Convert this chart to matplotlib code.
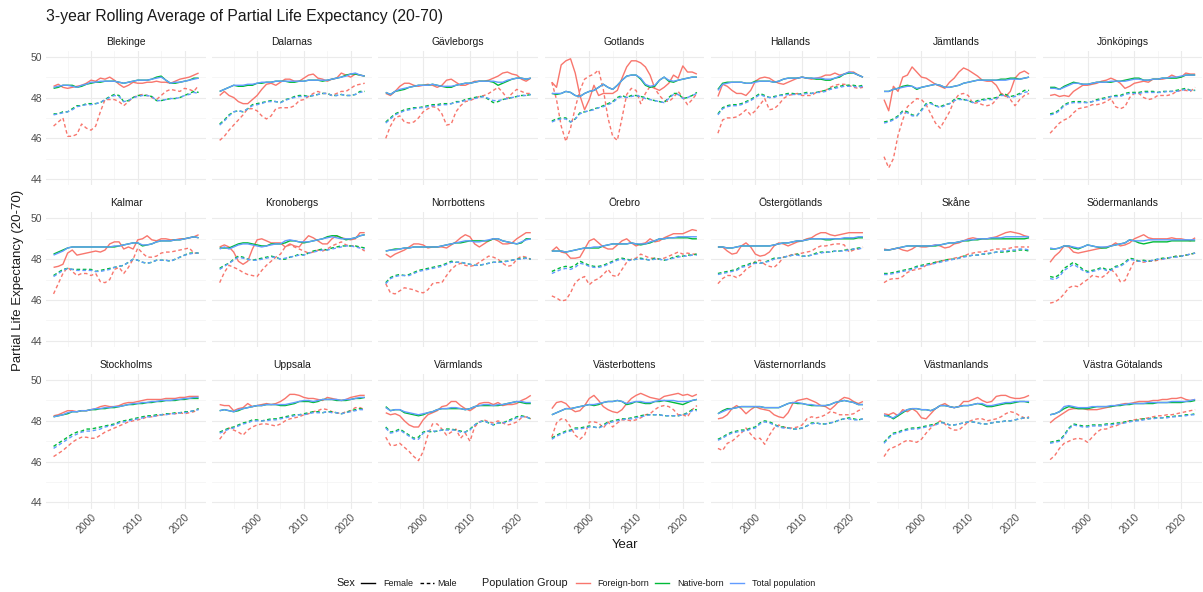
import matplotlib
matplotlib.use("Agg")
import matplotlib.pyplot as plt
from matplotlib.lines import Line2D

plt.rcParams['font.family'] = ['Liberation Sans', 'DejaVu Sans']

years = list(range(1992, 2024))

groups = ["Foreign-born", "Native-born", "Total population"]
group_keys = {"Foreign-born": "fb", "Native-born": "nb", "Total population": "tp"}
group_colors = {"Foreign-born": "#F8766D", "Native-born": "#00BA38", "Total population": "#619CFF"}
sexes = ["Female", "Male"]
sex_keys = {"Female": "f", "Male": "m"}

y_ticks = [44, 46, 48, 50]
x_ticks = [2000, 2010, 2020]

blekinge = dict(
    fb_f=[48.55,48.65,48.5,48.45,48.5,48.55,48.6,48.7, 48.85,48.8,48.95,48.9,49.0,48.85,48.65,48.5, 48.6,48.75,48.7,48.7,48.75,48.75,48.8,48.75, 48.75,48.7,48.8,48.9,48.95,49.0,49.1,49.2],
    nb_f=[48.45,48.5,48.6,48.6,48.6,48.5,48.55,48.65, 48.7,48.75,48.75,48.8,48.8,48.8,48.75,48.7, 48.75,48.8,48.85,48.85,48.85,48.9,49.0,49.05, 48.85,48.7,48.7,48.75,48.8,48.85,48.95,48.95],
    tp_f=[48.5,48.55,48.6,48.6,48.55,48.5,48.6,48.65, 48.75,48.75,48.8,48.8,48.8,48.8,48.75,48.7, 48.75,48.8,48.85,48.85,48.85,48.9,48.95,49.0, 48.85,48.7,48.75,48.75,48.8,48.85,48.9,48.95],
    fb_m=[46.6,46.8,47.0,46.1,46.1,46.2,46.7,46.5, 46.4,46.6,47.3,47.9,47.9,47.9,47.8,47.6, 47.8,48.0,48.1,48.15,48.1,48.0,47.9,48.1, 48.3,48.4,48.35,48.3,48.45,48.4,48.3,48.6],
    nb_m=[47.2,47.2,47.3,47.3,47.45,47.6,47.6,47.7, 47.7,47.7,47.75,47.9,48.05,48.15,48.1,47.8, 47.85,48.0,48.1,48.1,48.1,48.05,47.85,47.85, 47.9,47.95,47.95,48.0,48.1,48.2,48.3,48.25],
    tp_m=[47.15,47.2,47.25,47.3,47.4,47.55,47.6,47.65, 47.65,47.7,47.75,47.9,48.0,48.1,48.05,47.8, 47.85,48.0,48.05,48.1,48.1,48.05,47.85,47.85, 47.9,47.95,47.95,48.0,48.1,48.15,48.25,48.2],
)

dalarnas = dict(
    fb_f=[48.1,48.3,48.1,48.0,47.8,47.7,47.7,47.9, 48.1,48.4,48.65,48.7,48.6,48.75,48.9,48.9, 48.8,48.8,48.95,49.1,49.15,48.95,48.9,48.8, 48.9,48.95,49.2,49.1,49.0,49.15,49.1,49.05],
    nb_f=[48.3,48.4,48.5,48.6,48.55,48.55,48.6,48.6, 48.7,48.7,48.75,48.75,48.8,48.8,48.8,48.75, 48.75,48.8,48.8,48.85,48.85,48.85,48.8,48.85, 48.9,48.95,49.0,49.1,49.15,49.15,49.1,49.05],
    tp_f=[48.3,48.4,48.5,48.6,48.6,48.6,48.65,48.65, 48.7,48.75,48.75,48.75,48.8,48.8,48.8,48.8, 48.8,48.8,48.8,48.85,48.85,48.85,48.85,48.85, 48.9,48.95,49.0,49.05,49.15,49.2,49.1,49.05],
    fb_m=[45.9,46.1,46.4,46.65,46.9,47.15,47.45,47.45, 47.35,47.1,46.95,47.1,47.45,47.5,47.5,47.5, 47.6,47.85,47.9,48.05,48.2,48.3,48.2,48.2, 48.1,48.2,48.3,48.3,48.45,48.6,48.65,48.7],
    nb_m=[46.7,46.9,47.15,47.3,47.35,47.3,47.45,47.65, 47.7,47.75,47.8,47.85,47.8,47.75,47.9,47.95, 48.05,48.1,48.1,48.05,48.1,48.15,48.2,48.2, 48.1,48.1,48.15,48.1,48.1,48.15,48.3,48.3],
    tp_m=[46.65,46.85,47.1,47.3,47.35,47.3,47.45,47.6, 47.65,47.7,47.8,47.8,47.8,47.75,47.85,47.95, 48.0,48.05,48.05,48.05,48.1,48.15,48.2,48.2, 48.1,48.1,48.15,48.1,48.1,48.15,48.25,48.3],
)

gavleborgs = dict(
    fb_f=[48.2,48.1,48.3,48.55,48.7,48.7,48.6,48.55, 48.6,48.65,48.6,48.5,48.6,48.85,48.9,48.75, 48.6,48.6,48.7,48.8,48.8,48.8,48.85,48.95, 49.05,49.2,49.25,49.15,49.1,48.9,48.8,48.95],
    nb_f=[48.25,48.15,48.3,48.35,48.4,48.5,48.55,48.6, 48.6,48.6,48.65,48.6,48.55,48.5,48.5,48.6, 48.65,48.7,48.7,48.75,48.8,48.8,48.8,48.75, 48.6,48.7,48.8,48.9,48.95,48.95,48.9,48.95],
    tp_f=[48.25,48.15,48.3,48.4,48.45,48.5,48.55,48.6, 48.6,48.6,48.65,48.6,48.55,48.55,48.55,48.6, 48.65,48.7,48.7,48.75,48.8,48.8,48.8,48.8, 48.75,48.75,48.85,48.9,48.95,48.95,48.9,48.95],
    fb_m=[46.0,46.6,47.0,47.1,46.8,46.75,46.8,47.0, 47.3,47.45,47.55,47.5,47.2,46.65,46.7,47.3, 47.6,47.8,47.85,47.95,48.05,48.1,48.2,48.35, 48.5,48.25,47.95,48.2,48.4,48.3,48.2,48.2],
    nb_m=[46.8,47.0,47.2,47.3,47.4,47.45,47.5,47.5, 47.55,47.6,47.65,47.65,47.7,47.7,47.7,47.8, 47.8,47.9,47.95,48.0,48.05,48.05,47.9,47.75, 47.8,47.9,47.95,48.0,48.05,48.1,48.1,48.15],
    tp_m=[46.75,46.95,47.15,47.25,47.35,47.4,47.45,47.5, 47.5,47.55,47.6,47.6,47.65,47.65,47.7,47.75, 47.8,47.85,47.9,47.95,48.0,48.05,47.95,47.85, 47.85,47.9,47.95,48.0,48.05,48.1,48.1,48.15],
)

gotlands = dict(
    fb_f=[48.75,48.5,49.6,49.8,49.9,49.2,48.1,47.4, 47.9,48.6,48.1,48.2,48.2,48.2,48.35,48.95, 49.5,49.8,49.8,49.7,49.5,49.1,48.45,48.35, 48.5,48.7,49.1,48.95,49.55,49.25,49.25,49.15],
    nb_f=[48.2,48.15,48.2,48.3,48.25,48.1,48.05,48.2, 48.3,48.35,48.5,48.65,48.5,48.4,48.6,48.85, 49.05,49.1,49.1,48.9,48.6,48.5,48.55,48.85, 49.0,48.8,48.75,48.85,48.9,48.95,49.0,49.0],
    tp_f=[48.2,48.2,48.2,48.3,48.25,48.1,48.05,48.2, 48.3,48.35,48.5,48.65,48.5,48.4,48.6,48.85, 49.05,49.1,49.1,48.95,48.65,48.55,48.6,48.85, 49.0,48.85,48.8,48.85,48.9,48.95,49.0,49.0],
    fb_m=[48.75,47.9,46.6,45.85,46.5,47.5,48.35,48.9, 49.05,49.15,49.35,48.4,47.0,46.1,45.9,47.0, 48.15,48.45,48.35,47.7,48.2,48.55,48.45,48.1, 47.85,47.8,48.0,48.3,48.0,47.65,47.9,48.2],
    nb_m=[46.85,46.95,47.0,47.0,46.8,46.95,47.25,47.3, 47.35,47.45,47.5,47.6,47.7,47.8,48.0,48.1, 48.0,48.1,48.1,48.05,48.0,47.9,47.85,47.8, 47.75,48.0,48.2,48.2,47.95,48.0,48.1,48.25],
    tp_m=[46.8,46.9,46.95,46.95,46.8,46.95,47.2,47.3, 47.35,47.4,47.5,47.55,47.65,47.75,47.95,48.05, 48.0,48.05,48.1,48.05,47.95,47.9,47.85,47.8, 47.75,47.95,48.15,48.15,47.95,48.0,48.1,48.2],
)

hallands = dict(
    fb_f=[48.05,48.65,48.55,48.35,48.2,48.2,48.1,48.35, 48.8,48.95,49.0,48.95,48.8,48.7,48.65,48.75, 48.85,48.95,49.0,48.95,48.9,48.95,49.0,49.1, 49.1,49.2,49.1,49.15,49.25,49.25,49.1,49.0],
    nb_f=[48.4,48.7,48.75,48.75,48.75,48.75,48.7,48.7, 48.8,48.8,48.8,48.8,48.75,48.8,48.9,48.95, 48.95,48.95,49.0,48.95,48.95,48.9,48.9,48.85, 48.85,48.95,49.0,49.15,49.2,49.2,49.1,49.0],
    tp_f=[48.35,48.65,48.7,48.75,48.75,48.75,48.7,48.7, 48.75,48.8,48.8,48.8,48.75,48.8,48.9,48.95, 48.95,48.95,49.0,48.95,48.95,48.95,48.95,48.9, 48.9,48.95,49.05,49.15,49.25,49.2,49.1,49.0],
    fb_m=[46.25,46.9,47.0,47.0,47.05,47.2,47.4,47.15, 47.35,47.65,47.95,47.4,47.45,47.65,47.95,48.1, 48.15,48.2,48.1,48.1,48.1,48.25,48.3,48.35, 48.5,48.6,48.65,48.65,48.6,48.5,48.45,48.5],
    nb_m=[47.2,47.5,47.6,47.65,47.65,47.7,47.8,47.9, 48.05,48.2,48.1,48.0,48.05,48.1,48.15,48.2, 48.2,48.15,48.2,48.25,48.2,48.25,48.3,48.35, 48.45,48.5,48.55,48.6,48.6,48.6,48.55,48.6],
    tp_m=[47.15,47.45,47.55,47.6,47.6,47.65,47.75,47.85, 48.0,48.15,48.05,48.0,48.0,48.1,48.1,48.15, 48.15,48.15,48.15,48.2,48.2,48.25,48.25,48.3, 48.4,48.45,48.5,48.55,48.55,48.55,48.5,48.55],
)

jamtlands = dict(
    fb_f=[47.9,47.35,48.55,48.3,49.0,49.1,49.5,49.25, 49.0,48.95,48.8,48.65,48.55,48.45,48.75,48.95, 49.25,49.45,49.35,49.2,49.05,48.85,48.8,48.8, 48.6,48.2,48.05,48.3,48.95,49.2,49.3,49.15],
    nb_f=[48.3,48.3,48.4,48.45,48.55,48.6,48.55,48.4, 48.5,48.55,48.6,48.65,48.6,48.5,48.5,48.55, 48.6,48.7,48.75,48.8,48.85,48.85,48.85,48.85, 48.85,48.9,48.9,48.95,48.95,48.9,48.95,49.0],
    tp_f=[48.3,48.3,48.4,48.45,48.5,48.55,48.55,48.45, 48.5,48.55,48.6,48.65,48.6,48.5,48.5,48.55, 48.6,48.7,48.75,48.8,48.85,48.85,48.85,48.85, 48.85,48.85,48.85,48.9,48.9,48.9,48.95,49.0],
    fb_m=[45.1,44.55,45.0,46.15,46.9,47.55,47.75,47.95, 47.9,47.65,47.2,46.75,46.5,46.9,47.3,47.85, 48.15,48.2,48.1,47.7,47.75,47.65,47.6,47.65, 47.9,48.2,48.1,47.9,47.6,47.9,48.1,48.2],
    nb_m=[46.8,46.85,46.95,47.1,47.35,47.3,47.15,47.1, 47.4,47.7,47.75,47.6,47.55,47.65,47.7,47.9, 47.95,47.9,47.85,47.75,47.85,47.9,47.95,47.95, 48.0,48.15,48.15,48.05,48.1,48.2,48.35,48.35],
    tp_m=[46.75,46.8,46.9,47.05,47.3,47.25,47.1,47.1, 47.35,47.65,47.7,47.6,47.5,47.6,47.7,47.85, 47.9,47.9,47.85,47.75,47.8,47.85,47.9,47.9, 47.95,48.1,48.1,48.0,48.05,48.15,48.25,48.3],
)

jonkopings = dict(
    fb_f=[48.1,48.15,48.05,48.1,48.05,48.3,48.45,48.6, 48.6,48.65,48.7,48.8,48.85,48.95,48.85,48.7, 48.45,48.55,48.7,48.75,48.8,48.75,48.9,48.9, 48.9,48.95,49.1,49.0,49.0,49.2,49.15,49.15],
    nb_f=[48.5,48.5,48.4,48.55,48.65,48.75,48.7,48.65, 48.65,48.7,48.75,48.75,48.75,48.75,48.8,48.8, 48.85,48.9,48.95,48.95,48.85,48.85,48.9,48.9, 48.95,48.95,48.95,48.95,49.0,49.1,49.1,49.1],
    tp_f=[48.45,48.45,48.4,48.5,48.6,48.7,48.7,48.65, 48.65,48.7,48.75,48.75,48.75,48.8,48.8,48.8, 48.8,48.85,48.9,48.9,48.85,48.85,48.9,48.9, 48.95,48.95,49.0,49.0,49.05,49.1,49.1,49.1],
    fb_m=[46.25,46.5,46.75,46.9,47.0,47.25,47.45,47.5, 47.55,47.65,47.65,47.7,47.8,47.95,47.55,47.45, 47.55,48.0,48.2,48.2,48.0,47.9,47.95,48.1, 48.1,48.1,48.15,48.3,48.35,48.35,48.3,48.5],
    nb_m=[47.2,47.25,47.4,47.65,47.75,47.8,47.8,47.8, 47.75,47.8,47.9,47.95,48.0,48.05,48.1,48.1, 48.2,48.25,48.25,48.25,48.3,48.3,48.3,48.25, 48.3,48.3,48.3,48.35,48.4,48.45,48.35,48.35],
    tp_m=[47.15,47.2,47.35,47.6,47.7,47.75,47.75,47.75, 47.75,47.8,47.85,47.9,47.95,48.05,48.05,48.05, 48.15,48.2,48.2,48.2,48.25,48.25,48.25,48.25, 48.25,48.3,48.3,48.3,48.35,48.4,48.35,48.35],
)

kalmar = dict(
    fb_f=[47.6,47.65,47.75,48.3,48.45,48.2,48.25,48.3, 48.35,48.4,48.35,48.45,48.75,48.85,48.85,48.5, 48.6,48.5,48.95,49.0,49.15,48.95,48.9,49.0, 49.0,48.95,48.95,49.0,49.0,49.05,49.1,49.2],
    nb_f=[48.25,48.35,48.45,48.55,48.6,48.6,48.6,48.6, 48.6,48.6,48.6,48.6,48.6,48.6,48.65,48.7, 48.75,48.8,48.8,48.65,48.7,48.75,48.85,48.9, 48.9,48.9,48.95,48.95,49.0,49.05,49.1,49.05],
    tp_f=[48.2,48.3,48.4,48.55,48.6,48.6,48.6,48.6, 48.6,48.6,48.6,48.6,48.6,48.65,48.65,48.7, 48.75,48.8,48.8,48.7,48.7,48.75,48.85,48.9, 48.9,48.9,48.95,48.95,49.0,49.05,49.1,49.05],
    fb_m=[46.3,46.8,47.3,47.6,47.4,47.2,47.3,47.3, 47.2,47.3,46.9,46.85,47.0,47.5,47.6,47.3, 47.6,48.0,48.55,48.3,48.1,48.1,48.15,48.3, 48.35,48.35,48.4,48.45,48.5,48.55,48.3,48.3],
    nb_m=[47.2,47.35,47.5,47.55,47.5,47.5,47.5,47.5, 47.5,47.4,47.45,47.5,47.55,47.6,47.65,47.7, 47.85,48.0,47.95,47.85,47.8,47.85,47.95,47.95, 47.95,47.9,48.0,48.1,48.2,48.3,48.3,48.3],
    tp_m=[47.15,47.3,47.45,47.55,47.5,47.45,47.45,47.45, 47.45,47.4,47.4,47.45,47.5,47.6,47.65,47.7, 47.85,48.0,47.95,47.85,47.8,47.85,47.95,47.95, 47.95,47.9,48.0,48.1,48.2,48.25,48.3,48.3],
)

kronobergs = dict(
    fb_f=[48.6,48.7,48.6,48.35,47.9,47.75,47.9,48.5, 48.95,49.0,48.9,48.8,48.8,48.8,48.6,48.75, 48.65,48.6,48.9,49.15,49.05,48.9,48.75,48.75, 49.0,49.15,49.05,49.0,48.95,49.0,49.3,49.3],
    nb_f=[48.55,48.55,48.55,48.65,48.75,48.8,48.8,48.75, 48.7,48.65,48.65,48.75,48.75,48.75,48.8,48.9, 48.9,48.85,48.8,48.85,48.9,48.95,49.0,49.1, 49.15,49.15,49.05,48.95,49.0,49.05,49.15,49.2],
    tp_f=[48.5,48.6,48.5,48.6,48.7,48.75,48.75,48.7, 48.65,48.6,48.65,48.7,48.75,48.75,48.9,48.95, 48.9,48.85,48.85,48.85,48.9,48.95,49.0,49.05, 49.1,49.05,49.0,49.0,49.0,49.05,49.15,49.2],
    fb_m=[46.85,47.35,47.7,47.6,47.5,47.35,47.25,47.2, 47.15,47.45,47.7,47.9,48.1,48.25,48.6,48.7, 48.6,48.5,48.4,48.3,48.35,48.45,48.4,48.5, 48.65,48.75,48.85,48.7,48.65,48.65,48.55,48.4],
    nb_m=[47.55,47.7,47.8,48.0,48.15,48.1,48.0,47.95, 48.0,48.05,48.1,48.15,48.1,48.0,48.0,48.1, 48.15,48.25,48.2,48.3,48.4,48.45,48.5,48.45, 48.55,48.6,48.65,48.65,48.65,48.65,48.6,48.55],
    tp_m=[47.5,47.65,47.8,47.95,48.1,48.05,48.0,47.95, 47.95,48.0,48.05,48.1,48.1,48.0,48.05,48.1, 48.15,48.2,48.2,48.3,48.35,48.4,48.45,48.45, 48.5,48.55,48.6,48.65,48.65,48.6,48.55,48.5],
)

norrbottens = dict(
    fb_f=[48.25,48.1,48.25,48.35,48.45,48.6,48.75,48.75, 48.7,48.55,48.6,48.6,48.6,48.55,48.7,48.85, 49.05,49.2,49.1,48.75,48.6,48.75,48.9,49.0, 48.9,48.75,48.75,48.8,49.0,49.15,49.3,49.3],
    nb_f=[48.4,48.45,48.5,48.5,48.55,48.55,48.6,48.6, 48.6,48.6,48.6,48.6,48.65,48.7,48.75,48.8, 48.8,48.85,48.9,48.9,48.9,48.9,48.9,49.0, 49.0,48.9,48.85,48.8,48.75,48.8,49.0,49.0],
    tp_f=[48.4,48.45,48.45,48.5,48.55,48.55,48.6,48.6, 48.6,48.6,48.6,48.6,48.65,48.7,48.75,48.8, 48.85,48.9,48.9,48.85,48.85,48.9,48.95,49.0, 49.0,48.9,48.85,48.8,48.75,48.85,48.95,49.0],
    fb_m=[46.8,46.35,46.3,46.45,46.6,46.55,46.5,46.4, 46.35,46.5,46.8,46.85,46.85,47.2,47.5,47.7, 47.8,47.7,47.65,47.7,47.85,48.0,48.15,48.1, 48.0,47.8,47.65,47.7,48.0,48.15,48.1,48.0],
    nb_m=[46.85,47.1,47.2,47.25,47.2,47.25,47.35,47.45, 47.5,47.55,47.6,47.65,47.7,47.8,47.9,47.85, 47.85,47.8,47.75,47.7,47.7,47.75,47.8,47.85, 47.85,47.9,47.9,47.95,48.0,48.05,48.05,48.0],
    tp_m=[46.8,47.05,47.15,47.2,47.2,47.2,47.3,47.4, 47.45,47.5,47.55,47.6,47.65,47.75,47.85,47.85, 47.85,47.8,47.75,47.7,47.7,47.75,47.8,47.85, 47.85,47.85,47.9,47.95,48.0,48.0,48.05,48.0],
)

orebro = dict(
    fb_f=[48.4,48.6,48.35,48.3,48.05,48.05,48.1,48.5, 48.9,49.0,48.8,48.6,48.5,48.5,48.7,48.9, 49.0,48.8,48.65,48.75,48.8,49.0,48.85,48.9, 49.05,49.15,49.25,49.25,49.25,49.35,49.45,49.4],
    nb_f=[48.4,48.4,48.4,48.35,48.4,48.45,48.5,48.55, 48.55,48.55,48.55,48.65,48.7,48.75,48.75,48.75, 48.75,48.8,48.75,48.7,48.75,48.8,48.9,49.0, 49.0,49.05,49.05,49.05,49.05,49.05,49.0,49.0],
    tp_f=[48.4,48.4,48.4,48.35,48.4,48.45,48.5,48.55, 48.55,48.6,48.6,48.65,48.7,48.75,48.75,48.75, 48.75,48.8,48.75,48.75,48.75,48.85,48.9,49.0, 49.0,49.05,49.05,49.1,49.1,49.1,49.1,49.1],
    fb_m=[46.2,46.1,45.95,46.0,46.35,46.85,47.05,47.15, 46.75,46.95,47.05,47.25,47.5,47.2,47.15,47.5, 47.85,48.0,48.05,48.25,48.15,48.05,48.05,48.0, 48.05,48.15,48.25,48.35,48.25,48.3,48.25,48.25],
    nb_m=[47.4,47.5,47.6,47.65,47.6,47.7,47.9,47.8, 47.7,47.65,47.65,47.7,47.8,47.9,48.0,48.05, 48.0,47.95,48.0,48.05,48.0,47.95,48.05,48.0, 47.95,48.0,48.1,48.15,48.15,48.2,48.2,48.25],
    tp_m=[47.3,47.4,47.5,47.55,47.5,47.6,47.8,47.75, 47.65,47.6,47.6,47.65,47.75,47.85,47.95,48.0, 47.95,47.95,48.0,48.0,48.0,47.95,48.0,48.0, 47.95,48.0,48.05,48.1,48.15,48.15,48.2,48.2],
)

ostergotlands = dict(
    fb_f=[48.6,48.6,48.4,48.25,48.3,48.65,48.8,48.6, 48.25,48.15,48.2,48.35,48.65,48.8,48.75,48.65, 48.75,48.85,48.9,49.0,49.05,49.2,49.3,49.3, 49.2,49.15,49.2,49.25,49.3,49.3,49.3,49.3],
    nb_f=[48.6,48.6,48.55,48.55,48.6,48.65,48.65,48.65, 48.65,48.65,48.65,48.65,48.7,48.75,48.8,48.8, 48.85,48.9,48.9,48.95,49.0,49.0,49.0,48.95, 48.95,49.0,49.0,49.0,49.0,49.0,49.05,49.05],
    tp_f=[48.6,48.6,48.55,48.55,48.6,48.65,48.65,48.65, 48.65,48.65,48.65,48.65,48.7,48.75,48.8,48.8, 48.85,48.9,48.9,48.95,49.0,49.0,49.0,49.0, 49.0,49.0,49.0,49.05,49.05,49.05,49.1,49.1],
    fb_m=[46.8,47.05,47.2,47.2,47.1,47.25,47.5,47.65, 47.9,47.95,47.75,47.65,47.6,47.8,48.1,48.15, 48.25,48.25,48.3,48.35,48.4,48.55,48.65,48.65, 48.7,48.75,48.75,48.7,48.35,48.45,48.5,48.6],
    nb_m=[47.3,47.35,47.4,47.45,47.5,47.65,47.7,47.8, 47.85,47.8,47.85,47.95,48.05,48.05,48.1,48.15, 48.2,48.25,48.15,48.15,48.2,48.3,48.35,48.35, 48.35,48.4,48.4,48.45,48.45,48.5,48.55,48.55],
    tp_m=[47.25,47.3,47.35,47.4,47.45,47.6,47.65,47.75, 47.8,47.8,47.85,47.9,48.0,48.05,48.1,48.15, 48.2,48.2,48.15,48.15,48.2,48.25,48.3,48.35, 48.35,48.4,48.4,48.4,48.45,48.5,48.5,48.55],
)

skane = dict(
    fb_f=[48.5,48.45,48.5,48.55,48.45,48.4,48.5,48.65, 48.6,48.6,48.65,48.7,48.65,48.55,48.6,48.75, 48.8,48.9,49.0,49.05,49.0,49.0,49.0,49.05, 49.1,49.2,49.3,49.35,49.3,49.25,49.15,49.1],
    nb_f=[48.45,48.45,48.5,48.55,48.6,48.65,48.65,48.65, 48.65,48.65,48.65,48.65,48.7,48.75,48.8,48.8, 48.85,48.9,48.9,48.95,48.95,49.0,49.0,49.0, 49.0,49.0,49.0,49.0,49.0,49.0,49.0,49.05],
    tp_f=[48.45,48.45,48.5,48.55,48.6,48.65,48.65,48.65, 48.65,48.65,48.65,48.7,48.7,48.75,48.8,48.8, 48.85,48.9,48.95,48.95,49.0,49.0,49.0,49.05, 49.05,49.05,49.1,49.1,49.1,49.1,49.1,49.1],
    fb_m=[46.85,47.0,47.05,47.05,47.15,47.35,47.45,47.5, 47.55,47.7,47.75,47.85,47.9,47.95,48.0,48.05, 48.1,48.15,48.25,48.3,48.35,48.35,48.4,48.45, 48.5,48.5,48.5,48.55,48.6,48.6,48.6,48.6],
    nb_m=[47.3,47.3,47.35,47.4,47.45,47.5,47.55,47.65, 47.7,47.75,47.8,47.85,47.9,47.95,48.0,48.0, 48.05,48.15,48.15,48.2,48.2,48.25,48.25,48.3, 48.35,48.35,48.35,48.4,48.4,48.45,48.45,48.4],
    tp_m=[47.25,47.25,47.3,47.35,47.4,47.45,47.5,47.6, 47.65,47.7,47.75,47.8,47.85,47.9,47.95,48.0, 48.05,48.1,48.15,48.2,48.2,48.25,48.3,48.3, 48.35,48.4,48.4,48.45,48.45,48.5,48.5,48.45],
)

sodermanlands = dict(
    fb_f=[47.85,48.15,48.35,48.65,48.6,48.35,48.3,48.35, 48.4,48.45,48.5,48.55,48.6,48.65,48.8,48.65, 48.7,48.8,49.0,49.1,49.2,49.05,49.0,49.0, 49.0,49.0,49.05,49.0,49.0,48.95,48.9,49.05],
    nb_f=[48.5,48.5,48.55,48.65,48.65,48.55,48.5,48.6, 48.7,48.65,48.6,48.55,48.55,48.65,48.7,48.75, 48.8,48.95,48.9,48.8,48.75,48.8,48.85,48.85, 48.85,48.85,48.9,48.9,48.9,48.9,48.9,48.9],
    tp_f=[48.55,48.5,48.55,48.65,48.65,48.6,48.55,48.6, 48.7,48.65,48.6,48.6,48.6,48.65,48.7,48.75, 48.8,48.95,48.9,48.9,48.9,48.95,48.95,48.95, 48.95,48.95,48.95,48.95,48.95,48.95,48.95,48.95],
    fb_m=[45.85,45.9,46.05,46.3,46.6,46.7,46.65,46.85, 47.0,47.2,47.15,47.1,47.25,47.5,47.3,46.9, 46.95,47.45,47.9,47.9,47.85,47.9,47.9,47.95, 48.0,48.05,48.1,48.15,48.15,48.2,48.25,48.3],
    nb_m=[47.15,47.1,47.25,47.55,47.7,47.85,47.7,47.5, 47.4,47.45,47.5,47.6,47.5,47.5,47.65,47.7, 47.85,48.05,48.0,47.9,47.95,47.9,47.95,48.0, 48.05,48.05,48.1,48.15,48.15,48.2,48.25,48.3],
    tp_m=[47.05,47.0,47.15,47.45,47.6,47.75,47.6,47.45, 47.35,47.4,47.45,47.55,47.45,47.45,47.6,47.65, 47.8,48.0,47.95,47.9,47.9,47.9,47.95,48.0, 48.0,48.05,48.1,48.1,48.15,48.2,48.25,48.3],
)

stockholms = dict(
    fb_f=[48.25,48.3,48.4,48.5,48.5,48.45,48.5,48.5, 48.55,48.6,48.7,48.75,48.7,48.7,48.75,48.85, 48.9,48.9,48.95,49.0,49.05,49.05,49.05,49.05, 49.1,49.1,49.1,49.15,49.15,49.2,49.2,49.2],
    nb_f=[48.2,48.25,48.3,48.35,48.45,48.45,48.5,48.5, 48.55,48.55,48.6,48.6,48.65,48.65,48.7,48.75, 48.8,48.8,48.85,48.85,48.9,48.9,48.95,48.95, 49.0,49.0,49.0,49.05,49.05,49.1,49.1,49.1],
    tp_f=[48.2,48.25,48.3,48.4,48.45,48.45,48.5,48.5, 48.55,48.6,48.6,48.65,48.65,48.7,48.7,48.75, 48.8,48.85,48.85,48.9,48.9,48.95,48.95,49.0, 49.0,49.0,49.05,49.05,49.1,49.1,49.15,49.15],
    fb_m=[46.25,46.4,46.55,46.75,46.95,47.1,47.2,47.2, 47.15,47.15,47.3,47.45,47.55,47.65,47.75,47.85, 47.95,48.0,48.05,48.1,48.2,48.2,48.25,48.3, 48.3,48.35,48.35,48.4,48.35,48.4,48.45,48.6],
    nb_m=[46.75,46.9,47.05,47.2,47.35,47.45,47.5,47.6, 47.6,47.65,47.7,47.75,47.8,47.85,47.95,48.0, 48.05,48.1,48.15,48.2,48.25,48.25,48.3,48.3, 48.35,48.35,48.4,48.4,48.45,48.45,48.5,48.6],
    tp_m=[46.65,46.8,46.95,47.1,47.25,47.35,47.45,47.5, 47.5,47.55,47.6,47.7,47.75,47.8,47.9,47.95, 48.0,48.05,48.1,48.15,48.2,48.2,48.25,48.3, 48.3,48.35,48.35,48.4,48.4,48.45,48.5,48.55],
)

uppsala = dict(
    fb_f=[48.8,48.75,48.75,48.5,48.6,48.65,48.85,48.7, 48.75,48.8,48.85,48.8,48.85,48.95,49.1,49.3, 49.3,49.25,49.15,49.1,49.1,49.05,49.0,49.15, 49.1,49.05,49.0,49.05,49.15,49.2,49.25,49.25],
    nb_f=[48.5,48.55,48.5,48.45,48.5,48.6,48.65,48.7, 48.75,48.75,48.8,48.8,48.8,48.75,48.75,48.8, 48.85,48.95,48.95,48.95,48.9,48.95,49.05,49.05, 49.05,49.0,49.0,49.0,49.05,49.1,49.1,49.15],
    tp_f=[48.5,48.55,48.5,48.45,48.55,48.6,48.65,48.7, 48.75,48.75,48.8,48.8,48.8,48.8,48.8,48.85, 48.9,48.95,49.0,49.0,48.95,49.0,49.05,49.05, 49.05,49.05,49.0,49.05,49.05,49.1,49.15,49.15],
    fb_m=[47.1,47.4,47.65,47.55,47.45,47.3,47.55,47.7, 47.8,47.85,47.85,47.8,47.75,47.85,48.0,48.1, 48.15,48.2,48.3,48.35,48.45,48.5,48.6,48.55, 48.45,48.4,48.35,48.45,48.5,48.65,48.65,48.55],
    nb_m=[47.45,47.55,47.65,47.7,47.8,47.9,47.95,48.05, 48.05,48.0,48.05,48.1,48.1,48.15,48.2,48.25, 48.3,48.3,48.35,48.4,48.45,48.45,48.4,48.45, 48.45,48.4,48.35,48.4,48.5,48.55,48.6,48.55],
    tp_m=[47.4,47.5,47.6,47.65,47.75,47.85,47.9,48.0, 48.0,48.0,48.0,48.05,48.05,48.1,48.15,48.2, 48.25,48.3,48.3,48.35,48.4,48.4,48.4,48.45, 48.4,48.4,48.35,48.4,48.45,48.5,48.55,48.55],
)

varmlands = dict(
    fb_f=[48.4,48.3,48.35,48.25,48.0,47.8,47.7,47.7, 48.05,48.3,48.4,48.5,48.7,48.75,48.95,48.95, 48.75,48.6,48.5,48.65,48.85,48.9,48.9,48.8, 48.9,48.75,48.8,48.8,48.85,49.0,49.1,49.25],
    nb_f=[48.7,48.5,48.55,48.55,48.4,48.35,48.3,48.25, 48.3,48.4,48.45,48.55,48.6,48.6,48.6,48.6, 48.6,48.55,48.6,48.7,48.75,48.75,48.75,48.75, 48.75,48.8,48.85,48.9,48.95,48.9,48.85,48.85],
    tp_f=[48.65,48.5,48.55,48.55,48.45,48.4,48.35,48.3, 48.35,48.4,48.45,48.55,48.6,48.6,48.65,48.65, 48.6,48.55,48.6,48.7,48.75,48.8,48.8,48.75, 48.8,48.8,48.85,48.9,48.95,48.95,48.9,48.9],
    fb_m=[47.2,46.8,46.8,46.9,46.7,46.5,46.25,46.05, 46.5,47.3,47.85,47.85,47.6,47.3,47.45,47.6, 47.15,47.4,47.0,47.7,47.95,48.05,47.95,47.9, 48.0,47.9,47.8,47.85,47.95,48.15,48.2,48.1],
    nb_m=[47.7,47.45,47.5,47.6,47.45,47.3,47.15,47.2, 47.45,47.5,47.45,47.5,47.55,47.6,47.6,47.55, 47.5,47.45,47.6,47.8,47.95,48.0,47.9,47.8, 47.9,47.9,48.0,48.1,48.2,48.25,48.2,48.1],
    tp_m=[47.65,47.4,47.45,47.55,47.4,47.25,47.1,47.1, 47.4,47.5,47.5,47.5,47.55,47.55,47.55,47.55, 47.45,47.45,47.55,47.8,47.95,48.0,47.9,47.8, 47.9,47.9,47.95,48.05,48.15,48.2,48.2,48.1],
)

vasterbottens = dict(
    fb_f=[48.6,48.9,48.95,48.85,48.6,48.45,48.5,48.75, 49.1,49.25,49.0,48.7,48.55,48.45,48.4,48.55, 48.85,49.1,49.25,49.35,49.25,49.15,49.1,49.05, 49.2,49.25,49.3,49.35,49.25,49.3,49.2,49.3],
    nb_f=[48.3,48.4,48.5,48.6,48.6,48.65,48.7,48.75, 48.8,48.75,48.8,48.9,48.95,48.95,49.0,48.95, 48.8,48.85,48.95,48.9,48.85,48.85,48.95,48.95, 49.0,48.95,48.9,48.85,48.8,48.9,49.0,49.05],
    tp_f=[48.3,48.4,48.5,48.6,48.6,48.65,48.7,48.75, 48.8,48.8,48.85,48.9,48.95,48.95,49.0,48.95, 48.85,48.9,48.95,48.95,48.9,48.9,48.95,49.0, 49.0,49.0,49.0,48.95,48.95,48.95,49.0,49.05],
    fb_m=[47.2,47.9,48.1,48.05,47.7,47.3,47.1,47.3, 47.95,47.95,47.9,47.65,47.95,47.7,47.9,48.05, 48.05,48.0,48.05,48.15,48.3,48.35,48.55,48.7, 48.75,48.7,48.55,48.3,48.3,48.2,48.55,48.75],
    nb_m=[47.15,47.3,47.4,47.5,47.55,47.65,47.65,47.7, 47.75,47.7,47.65,47.8,47.95,48.0,48.05,48.1, 48.1,48.15,48.2,48.25,48.3,48.3,48.3,48.3, 48.25,48.25,48.25,48.25,48.3,48.4,48.55,48.55],
    tp_m=[47.1,47.25,47.35,47.45,47.5,47.6,47.6,47.65, 47.7,47.7,47.65,47.75,47.9,47.95,48.0,48.05, 48.1,48.1,48.15,48.2,48.25,48.3,48.3,48.3, 48.25,48.25,48.25,48.25,48.3,48.35,48.5,48.5],
)

vasternorrlands = dict(
    fb_f=[48.1,48.15,48.3,48.6,48.75,48.6,48.35,48.55, 48.7,48.6,48.55,48.5,48.3,48.2,48.15,48.4, 48.85,49.0,49.05,49.1,49.0,48.9,48.75,48.7, 48.55,48.75,49.0,49.15,49.1,48.95,48.85,48.95],
    nb_f=[48.35,48.5,48.6,48.6,48.65,48.7,48.7,48.7, 48.7,48.7,48.65,48.65,48.65,48.65,48.75,48.85, 48.9,48.85,48.85,48.8,48.75,48.75,48.75,48.75, 48.8,48.9,48.95,49.0,48.95,48.9,48.8,48.8],
    tp_f=[48.35,48.45,48.55,48.6,48.65,48.7,48.7,48.7, 48.7,48.7,48.65,48.65,48.65,48.65,48.75,48.85, 48.9,48.9,48.85,48.8,48.8,48.75,48.75,48.75, 48.8,48.9,48.95,49.0,48.95,48.9,48.8,48.8],
    fb_m=[46.65,46.55,46.9,47.0,47.2,47.4,47.65,47.35, 47.1,47.15,46.85,47.3,47.65,47.8,47.7,47.65, 47.65,47.7,47.8,48.1,48.2,48.15,48.2,48.3, 48.45,48.4,48.3,48.3,48.3,48.35,48.5,48.6],
    nb_m=[47.1,47.2,47.35,47.45,47.5,47.55,47.55,47.65, 47.7,47.9,48.0,47.95,47.85,47.7,47.7,47.65, 47.6,47.6,47.65,47.75,47.9,47.9,47.85,47.85, 47.9,47.95,48.05,48.1,48.15,48.1,48.05,48.1],
    tp_m=[47.05,47.15,47.3,47.4,47.45,47.5,47.5,47.6, 47.65,47.85,47.95,47.9,47.8,47.7,47.65,47.65, 47.6,47.6,47.65,47.75,47.85,47.9,47.85,47.85, 47.9,47.95,48.05,48.1,48.1,48.05,48.05,48.1],
)

vastmanlands = dict(
    fb_f=[48.35,48.3,48.4,48.25,48.55,48.45,48.6,48.45, 48.15,48.1,48.35,48.6,48.75,48.85,48.7,48.65, 48.7,48.95,48.95,49.05,49.15,49.0,48.9,48.95, 49.2,49.25,49.25,49.15,49.1,49.1,49.15,49.25],
    nb_f=[48.25,48.25,48.1,48.25,48.4,48.55,48.6,48.6, 48.55,48.55,48.5,48.6,48.75,48.75,48.7,48.65, 48.7,48.75,48.75,48.8,48.85,48.8,48.7,48.7, 48.75,48.8,48.85,48.85,48.9,48.95,48.95,48.9],
    tp_f=[48.3,48.2,48.15,48.3,48.45,48.55,48.6,48.6, 48.55,48.55,48.5,48.6,48.75,48.75,48.7,48.65, 48.7,48.75,48.75,48.8,48.85,48.85,48.75,48.75, 48.8,48.85,48.9,48.9,48.95,48.95,48.95,48.95],
    fb_m=[46.25,46.6,46.7,46.8,46.95,47.05,47.0,46.95, 47.1,47.4,47.65,47.85,48.0,47.85,47.65,47.55, 47.55,47.75,47.95,48.05,48.1,48.1,48.0,48.05, 48.1,48.2,48.35,48.45,48.4,48.25,48.15,48.2],
    nb_m=[46.95,47.2,47.4,47.45,47.55,47.6,47.65,47.65, 47.7,47.75,47.8,47.85,47.95,47.9,47.8,47.8, 47.85,47.9,47.95,47.95,47.9,47.85,47.85,47.9, 47.95,47.95,48.0,48.0,48.05,48.1,48.15,48.15],
    tp_m=[46.9,47.15,47.35,47.4,47.5,47.55,47.6,47.6, 47.65,47.7,47.75,47.8,47.9,47.9,47.8,47.8, 47.85,47.9,47.95,47.95,47.9,47.85,47.85,47.9, 47.95,47.95,48.0,48.0,48.05,48.1,48.15,48.15],
)

vastra_gotalands = dict(
    fb_f=[47.9,48.1,48.25,48.4,48.55,48.6,48.6,48.6, 48.55,48.55,48.55,48.6,48.65,48.7,48.75,48.8, 48.85,48.85,48.9,48.95,48.95,48.95,49.0,49.0, 49.05,49.05,49.1,49.1,49.15,49.05,49.0,49.05],
    nb_f=[48.3,48.35,48.45,48.6,48.7,48.65,48.6,48.6, 48.6,48.65,48.7,48.7,48.7,48.7,48.75,48.75, 48.8,48.8,48.85,48.85,48.85,48.85,48.85,48.9, 48.9,48.9,48.9,48.9,48.9,48.95,48.95,49.0],
    tp_f=[48.3,48.35,48.45,48.7,48.75,48.7,48.65,48.65, 48.65,48.7,48.7,48.7,48.7,48.75,48.75,48.8, 48.8,48.85,48.85,48.85,48.85,48.9,48.9,48.9, 48.9,48.9,48.95,48.95,48.95,48.95,49.0,49.05],
    fb_m=[46.1,46.3,46.65,46.9,47.0,47.1,47.15,47.1, 46.95,47.2,47.45,47.6,47.6,47.7,47.75,47.85, 47.95,48.0,48.05,48.1,48.1,48.15,48.2,48.25, 48.25,48.3,48.3,48.35,48.4,48.45,48.5,48.55],
    nb_m=[46.95,47.0,47.05,47.3,47.65,47.85,47.8,47.75, 47.75,47.8,47.8,47.8,47.85,47.85,47.9,47.9, 47.95,48.0,48.0,48.05,48.1,48.1,48.15,48.15, 48.15,48.2,48.2,48.25,48.25,48.3,48.3,48.35],
    tp_m=[46.9,46.95,47.0,47.25,47.6,47.8,47.75,47.7, 47.7,47.75,47.75,47.75,47.8,47.8,47.85,47.85, 47.9,47.95,48.0,48.0,48.05,48.1,48.1,48.15, 48.15,48.15,48.2,48.2,48.25,48.25,48.3,48.3],
)

regions = [
    ("Blekinge", blekinge), ("Dalarnas", dalarnas), ("Gävleborgs", gavleborgs),
    ("Gotlands", gotlands), ("Hallands", hallands), ("Jämtlands", jamtlands),
    ("Jönköpings", jonkopings), ("Kalmar", kalmar), ("Kronobergs", kronobergs),
    ("Norrbottens", norrbottens), ("Örebro", orebro), ("Östergötlands", ostergotlands),
    ("Skåne", skane), ("Södermanlands", sodermanlands), ("Stockholms", stockholms),
    ("Uppsala", uppsala), ("Värmlands", varmlands), ("Västerbottens", vasterbottens),
    ("Västernorrlands", vasternorrlands), ("Västmanlands", vastmanlands),
    ("Västra Götalands", vastra_gotalands),
]

W, H = 1203, 592
fig = plt.figure(figsize=(W / 100, H / 100), dpi=100)
axes = fig.subplots(3, 7, sharex=True, sharey=True)
fig.subplots_adjust(left=0.0385, right=0.9995, top=0.9145, bottom=0.1409,
                    wspace=0.041, hspace=0.201)

dash = (0, (2.6, 1.9))
tick_col = "#4D4D4D"

for idx, (name, data) in enumerate(regions):
    r, c = divmod(idx, 7)
    ax = axes[r][c]
    ax.set_xlim(1990.45, 2024.55)
    ax.set_ylim(43.7, 50.3)
    ax.set_xticks(x_ticks)
    ax.set_xticks([1995, 2005, 2015], minor=True)
    ax.set_yticks(y_ticks)
    ax.set_yticks([45, 47, 49], minor=True)
    ax.grid(which="major", color="#EBEBEB", linewidth=0.8)
    ax.grid(which="minor", color="#F3F3F3", linewidth=0.5)
    ax.set_axisbelow(True)
    for s in ax.spines.values():
        s.set_visible(False)
    ax.tick_params(which="both", length=0)
    ax.tick_params(axis="y", labelsize=7.5, labelcolor=tick_col, pad=3.0)
    ax.tick_params(axis="x", labelsize=7.5, labelcolor=tick_col, pad=2.5)
    if r == 2:
        for lab in ax.get_xticklabels():
            lab.set_rotation(45)
            lab.set_ha("right")
            lab.set_va("top")
            lab.set_rotation_mode("anchor")
    ax.set_title(name, fontsize=7.4, color="#1A1A1A", pad=4.3)
    for g in groups:
        for s in sexes:
            key = group_keys[g] + "_" + sex_keys[s]
            ls = "-" if s == "Female" else dash
            ax.plot(years, data[key], color=group_colors[g], linestyle=ls,
                    linewidth=1.0, solid_capstyle="butt")

fig.text(46 / W, 1 - 16 / H, "3-year Rolling Average of Partial Life Expectancy (20-70)",
         fontsize=11.3, ha="left", va="center", color="#1A1A1A")
fig.text(18 / W, 1 - 280 / H, "Partial Life Expectancy (20-70)", rotation=90,
         fontsize=9.5, ha="center", va="center", color="#1A1A1A")
fig.text(625 / W, 1 - 545 / H, "Year", fontsize=9.5, ha="center", va="center",
         color="#1A1A1A")

# legend
ly = 1 - 583 / H
def legline(x0, x1, color, ls):
    fig.add_artist(Line2D([x0 / W, x1 / W], [ly, ly], transform=fig.transFigure,
                          color=color, linestyle=ls, linewidth=1.0))
def legtext(x, txt, size):
    fig.text(x / W, ly, txt, fontsize=size, ha="left", va="center", color="#1A1A1A")

legtext(336, "Sex", 7.8)
legline(361, 375, "black", "-")
legtext(383, "Female", 6.5)
legline(420, 434, "black", dash)
legtext(437, "Male", 6.5)
legtext(482, "Population Group", 7.8)
legline(576, 590, group_colors["Foreign-born"], "-")
legtext(597, "Foreign-born", 6.5)
legline(655, 669, group_colors["Native-born"], "-")
legtext(677, "Native-born", 6.5)
legline(730, 744, group_colors["Total population"], "-")
legtext(752, "Total population", 6.5)

fig.savefig("out.png", dpi=100)
